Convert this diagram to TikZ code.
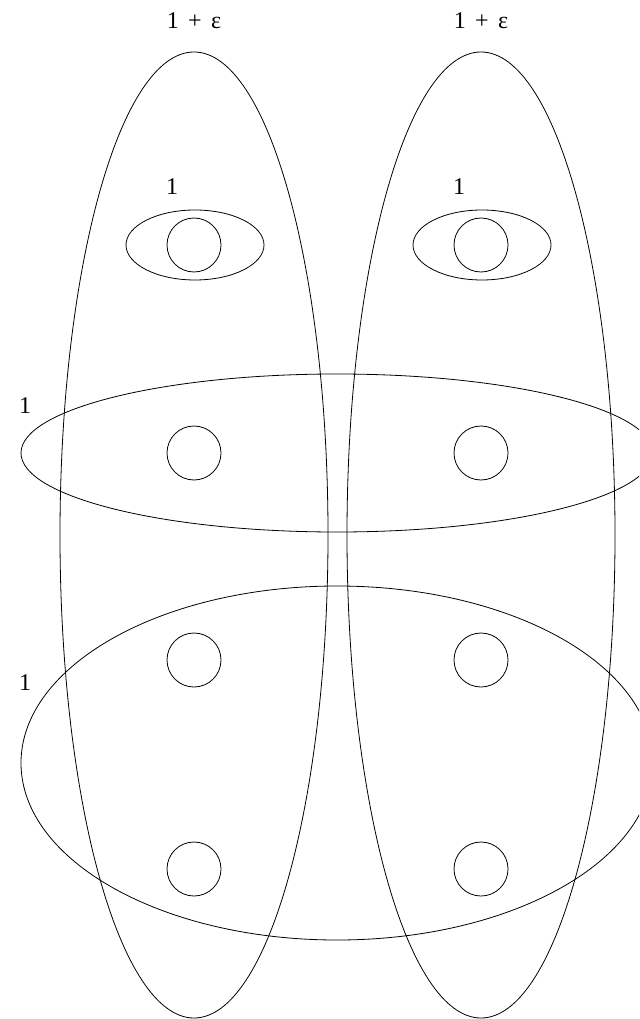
\documentclass[tikz,border=0pt]{standalone}
\usepackage{fontspec}
\setmainfont{Liberation Serif}
\tikzset{every picture/.style={line width=0.6pt}}
\tikzset{
weight/.style={inner sep=0.75pt, font=\fontsize{18}{20}\selectfont},
ring/.style={draw, circle, minimum size=40.5pt, inner sep=0pt}}

\begin{document}
\begin{tikzpicture}[x=0.75pt,y=0.75pt,yscale=-1,xscale=1]
\useasboundingbox (0,0) rectangle (639,1019);
\clip (0,0) rectangle (639,1019);

%Tall Ellipses
\draw (194,535) ellipse [x radius=134, y radius=483];
\draw (481,535) ellipse [x radius=134, y radius=483];
%Small Ellipses
\draw (195,245) ellipse [x radius=69, y radius=35];
\draw (482,245) ellipse [x radius=69, y radius=35];
%Wide Ellipses
\draw (337,453) ellipse [x radius=316, y radius=79];
\draw (337,763) ellipse [x radius=316, y radius=177];

%Circles
\node [ring] (c1) at (194,245) {};
\node [ring] (c2) at (481,245) {};
\node [ring] (c3) at (194,453) {};
\node [ring] (c4) at (481,453) {};
\node [ring] (c5) at (194,660) {};
\node [ring] (c6) at (481,660) {};
\node [ring] (c7) at (194,869) {};
\node [ring] (c8) at (481,869) {};

% Text Node
\draw (194,21) node [weight] (wl) {1\hspace{7pt}+\hspace{7pt}ε};
% Text Node
\draw (481,21) node [weight] (wr) {1\hspace{7pt}+\hspace{7pt}ε};
% Text Node
\draw (172,187) node [weight] (wsl) {1};
% Text Node
\draw (459,187) node [weight] (wsr) {1};
% Text Node
\draw (25,406) node [weight] (wm) {1};
% Text Node
\draw (25,683) node [weight] (wb) {1};

\end{tikzpicture}
\end{document}
